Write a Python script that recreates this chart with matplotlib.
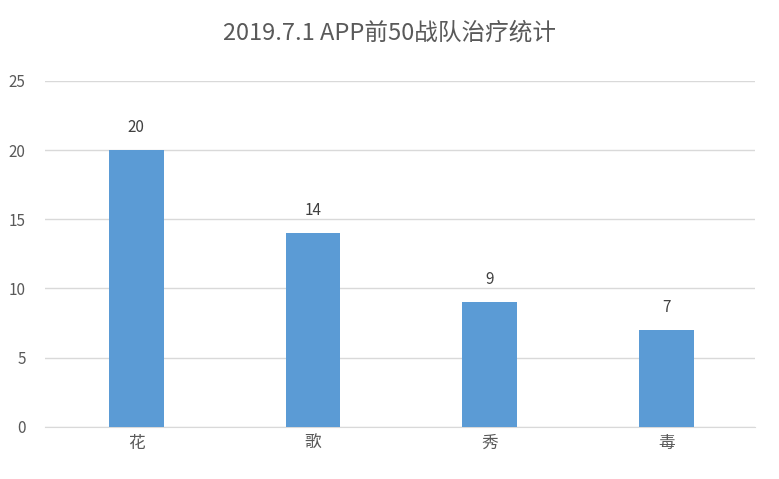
import matplotlib.pyplot as plt

plt.rcParams['font.family'] = ['Noto Sans CJK SC', 'DejaVu Sans']

categories = ["花", "歌", "秀", "毒"]
counts = [20, 14, 9, 7]
y_ticks = [0, 5, 10, 15, 20, 25]

fig = plt.figure(figsize=(7.79, 4.79), dpi=100)
ax = fig.add_axes([0.058, 0.109, 0.911, 0.722])

x = list(range(len(categories)))
bars = ax.bar(x, counts, width=0.31, color="#5b9bd5", zorder=3)
for xi, v in zip(x, counts):
    ax.text(xi, v + 1.0, str(v), ha="center", va="bottom", fontsize=11, color="#404040")

ax.set_xlim(-0.515, 3.5)
ax.set_ylim(0, 25)
ax.set_yticks(y_ticks)
ax.set_xticks(x)
ax.set_xticklabels(categories, fontsize=12, color="#595959")
ax.tick_params(axis="y", labelsize=11, labelcolor="#595959", length=0, pad=14)
ax.tick_params(axis="x", length=0, pad=6)
ax.grid(axis="y", color="#d9d9d9", linewidth=1, zorder=0)
for side in ["top", "right", "left"]:
    ax.spines[side].set_visible(False)
ax.spines["bottom"].set_color("#d9d9d9")

fig.text(0.5, 0.93, "2019.7.1 APP前50战队治疗统计", ha="center", va="center",
         fontsize=17, color="#595959")

fig.savefig("out.png", dpi=100)
